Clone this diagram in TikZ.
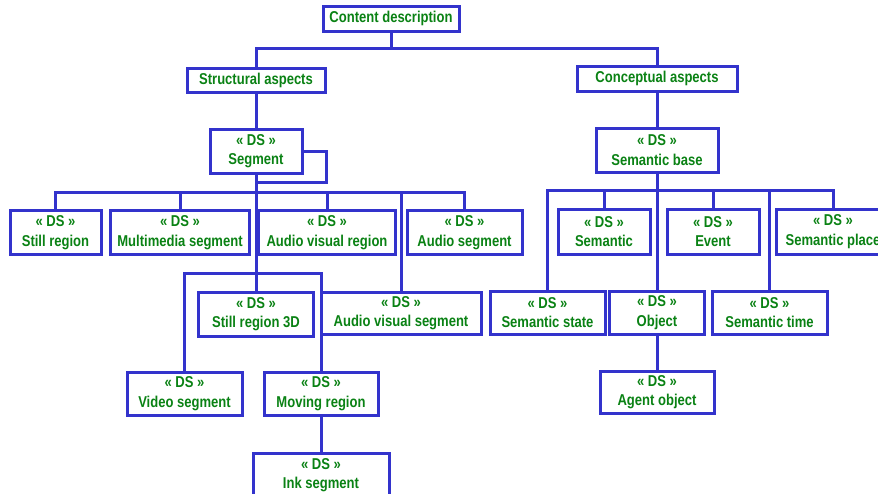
\documentclass[tikz,border=0pt]{standalone}
\usepackage{fontspec}
\setmainfont{Liberation Sans}[FakeStretch=0.83]
\definecolor{boxblue}{RGB}{51,51,204}
\definecolor{dsgreen}{RGB}{10,130,20}

\begin{document}
\begin{tikzpicture}[x=1pt, y=-1pt, line width=3pt, draw=boxblue,
  box/.style={draw=boxblue, fill=white, rectangle, inner sep=0pt, align=center,
    line width=3pt, text=dsgreen, font=\fontsize{15.7}{19.5}\selectfont\bfseries,
    minimum height=44pt}]
\useasboundingbox (0,0) rectangle (878,493);
\clip (0,0) rectangle (878,493);

% top of the tree
\node[box, minimum width=136pt, minimum height=25pt] (content) at (391,18.5) {Content description};
\node[box, minimum width=138pt, minimum height=24pt] (struct) at (256,80) {Structural aspects};
\node[box, minimum width=160pt, minimum height=25pt] (concept) at (657,78.5) {Conceptual aspects};

% structural side
\node[box, minimum width=92pt] (segment) at (256,151) {« DS »\\Segment};
\node[box, minimum width=91pt] (still) at (55.5,232.5) {« DS »\\Still region};
\node[box, minimum width=139pt] (multi) at (180,232.5) {« DS »\\Multimedia segment};
\node[box, minimum width=137pt] (avregion) at (327,232.5) {« DS »\\Audio visual region};
\node[box, minimum width=115pt] (audioseg) at (464.5,232.5) {« DS »\\Audio segment};
\node[box, minimum width=115pt] (still3d) at (256,314) {« DS »\\Still region 3D};
\node[box, minimum width=160pt, minimum height=42pt] (avsegment) at (401,313) {« DS »\\Audio visual segment};
\node[box, minimum width=115pt, minimum height=43pt] (video) at (184.5,393.5) {« DS »\\Video segment};
\node[box, minimum width=114pt, minimum height=43pt] (moving) at (321,393.5) {« DS »\\Moving region};
\node[box, minimum width=136pt] (ink) at (321,475) {« DS »\\Ink segment};

% conceptual side
\node[box, minimum width=122pt] (sembase) at (657,150) {« DS »\\Semantic base};
\node[box, minimum width=92pt, minimum height=45pt] (semantic) at (604,231.5) {« DS »\\Semantic};
\node[box, minimum width=92pt, minimum height=45pt] (event) at (713,231.5) {« DS »\\Event};
\node[box, minimum width=114pt, minimum height=45pt] (semplace) at (833,231.5) {« DS »\\Semantic place};
\node[box, minimum width=115pt, minimum height=43pt] (semstate) at (547.5,312.5) {« DS »\\Semantic state};
\node[box, minimum width=95pt, minimum height=43pt] (object) at (657,312.5) {« DS »\\Object};
\node[box, minimum width=115pt, minimum height=43pt] (semtime) at (769.5,312.5) {« DS »\\Semantic time};
\node[box, minimum width=114pt, minimum height=42pt] (agent) at (657,392) {« DS »\\Agent object};

\coordinate (topbus) at (391,48);
\coordinate (segbus) at (256,192);
\coordinate (loop) at (326,182);
\coordinate (fork) at (256,273);
\coordinate (sembus) at (657,190);

\draw (content) -- (topbus);
\draw (struct) |- (topbus) -| (concept);
\draw (struct) -- (segment);

\draw (segment) -- (still3d);
\draw (segment.east) -| (loop) -- (loop -| segment.south);
\draw (still) |- (segbus) -| (audioseg);
\draw (multi) -- (multi |- segbus);
\draw (avregion) -- (avregion |- segbus);
\draw (avsegment) -- (avsegment |- segbus);
\draw (video) |- (fork) -| (moving);
\draw (moving) -- (ink);

\draw (concept) -- (sembase);
\draw (sembase) -- (object);
\draw (semstate) |- (sembus) -| (semplace);
\draw (semantic) -- (semantic |- sembus);
\draw (event) -- (event |- sembus);
\draw (semtime) -- (semtime |- sembus);
\draw (object) -- (agent);
\end{tikzpicture}
\end{document}
